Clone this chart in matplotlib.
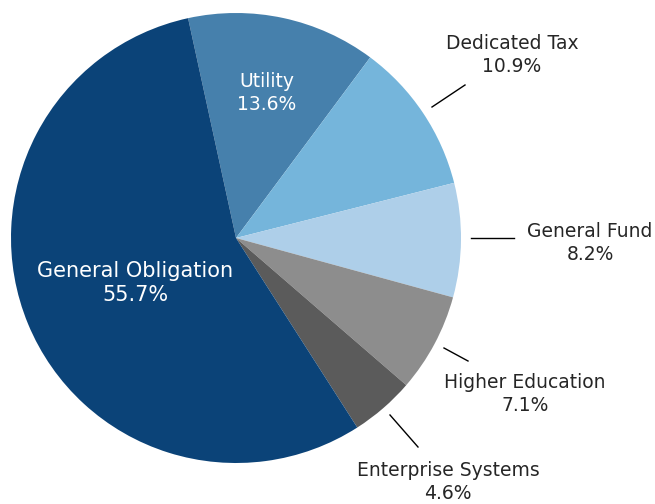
import matplotlib.pyplot as plt

labels = ['Utility', 'Dedicated Tax', 'General Fund', 'Higher Education',
          'Enterprise Systems', 'General Obligation']
shares = [13.6, 10.9, 8.2, 7.1, 4.6, 55.7]
colors = ['#4680ac', '#75b5db', '#aecfe9', '#8d8d8d', '#5b5b5b', '#0b4378']

W, H = 655, 504
CX, CY, R = 236, 238, 225


def to_data(px, py):
    return (px - CX) / R, (CY - py) / R


# label block centers (pixels) and leader lines (pixels)
label_px = {
    'Utility': (267, 93),
    'Dedicated Tax': (512, 55),
    'General Fund': (590, 243),
    'Higher Education': (525, 394),
    'Enterprise Systems': (448, 482),
    'General Obligation': (135, 283),
}
leaders = {
    'Dedicated Tax': ((432, 107), (465, 85)),
    'General Fund': ((471, 238), (514, 238)),
    'Higher Education': ((444, 348), (468, 361)),
    'Enterprise Systems': ((390, 415), (418, 447)),
}
inside = {'Utility', 'General Obligation'}

plt.rcParams['font.family'] = ['DejaVu Sans']

fig = plt.figure(figsize=(W / 100, H / 100), dpi=100)
ax = fig.add_axes([0, 0, 1, 1])
ax.axis('off')

ax.pie(shares, colors=colors, startangle=102.3, counterclock=False,
       radius=1, center=(0, 0), frame=False,
       wedgeprops=dict(linewidth=0))
ax.set_xlim(-CX / R, (W - CX) / R)
ax.set_ylim(-(H - CY) / R, CY / R)
ax.set_aspect('auto')

for name, val in zip(labels, shares):
    x, y = to_data(*label_px[name])
    col = 'white' if name in inside else '#262626'
    size = 15 if name == 'General Obligation' else 13.5
    ax.text(x, y, f'{name}\n{val}%', ha='center', va='center',
            fontsize=size, color=col, linespacing=1.3)
    if name in leaders:
        (x0, y0), (x1, y1) = leaders[name]
        a0, b0 = to_data(x0, y0)
        a1, b1 = to_data(x1, y1)
        ax.plot([a0, a1], [b0, b1], color='black', linewidth=1)

fig.savefig('out.png', dpi=100)
